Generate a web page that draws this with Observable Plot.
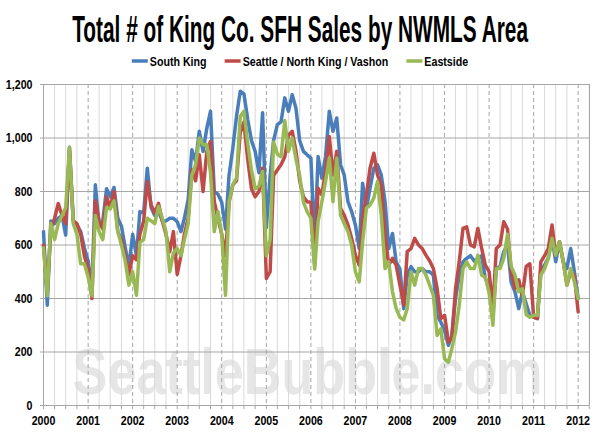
<!DOCTYPE html>
<html><head><meta charset="utf-8">
<script src="https://cdn.jsdelivr.net/npm/d3@7"></script>
<script src="https://cdn.jsdelivr.net/npm/@observablehq/plot@0.6"></script>
<style>
body{margin:0;background:#fff;width:600px;height:436px;overflow:hidden;font-family:"Liberation Sans",Arial,sans-serif}
svg{display:block}
</style></head><body>
<svg id="header" width="600" height="76">
  <text id="title" x="300" y="42" text-anchor="middle" font-size="37" font-weight="bold" fill="#000">Total # of King Co. SFH Sales by NWMLS Area</text>
  <g id="legend"></g>
</svg>
<div id="chart"></div>
<script>
const seriesNames = ["South King", "Seattle / North King / Vashon", "Eastside"];
const seriesColors = ["#4A7EBB", "#BE4B48", "#98B954"];
const years = [2000,2001,2002,2003,2004,2005,2006,2007,2008,2009,2010,2011,2012];
const yTicks = [0,200,400,600,800,1000,1200];
const watermark = "SeattleBubble.com";

// monthly values, Jan 2000 .. Jan 2012
const southKing = [
 650,375,690,680,700,710,637,965,690,675,650,590,
 540,430,825,670,690,810,780,815,700,670,590,520,
 640,560,725,720,887,740,710,725,690,690,700,700,
 687,650,700,770,956,912,1025,950,1037,1100,800,790,
 760,660,860,962,1080,1175,1165,1070,990,950,870,1094,
 665,860,990,1050,1060,1150,1100,1162,1110,990,950,937,
 925,600,931,850,931,1100,1025,1075,900,862,762,725,
 675,587,831,737,812,887,900,862,762,587,643,537,
 510,362,487,519,500,500,512,500,500,487,337,312,
 280,225,262,400,487,537,550,560,540,550,560,475,
 450,337,512,520,575,600,460,425,362,425,380,337,
 330,325,500,525,550,625,537,612,537,512,587,500,
 400];
const seattle = [
 600,420,660,700,755,710,680,955,690,680,640,560,
 510,400,765,690,660,780,740,800,650,620,560,490,
 560,545,640,690,837,750,720,756,690,640,575,650,
 490,560,640,700,880,840,937,800,950,987,762,700,
 640,560,760,825,840,1020,1060,920,810,780,800,887,
 475,500,860,880,900,930,1010,1025,950,840,780,762,
 760,525,812,787,875,1006,862,950,737,712,675,625,
 562,525,700,787,887,943,862,825,637,525,550,525,
 450,375,575,587,625,600,587,562,540,512,437,325,
 337,237,250,437,537,662,668,600,593,662,587,525,
 500,362,587,600,687,660,500,437,470,412,520,530,
 330,325,537,560,587,675,562,612,537,450,500,487,
 350];
const eastside = [
 590,410,680,620,680,710,740,965,680,640,530,530,
 480,410,710,650,620,740,735,765,650,600,540,450,
 500,412,610,620,700,690,680,744,700,650,500,570,
 587,560,620,680,860,900,1000,975,975,870,650,725,
 640,412,762,825,850,1080,1100,980,880,810,820,875,
 560,620,985,940,930,1065,950,1000,920,860,760,725,
 700,510,687,762,837,925,762,925,712,680,650,600,
 500,462,612,737,750,775,837,712,512,537,425,362,
 330,320,362,500,450,512,512,487,450,412,262,287,
 175,162,212,275,375,512,537,512,512,562,487,480,
 420,300,512,512,550,640,520,487,425,437,340,330,
 337,337,487,512,550,625,562,612,537,450,512,462,
 400];

// squeeze a text horizontally around its anchor, by wrapping it in a scaled group
function squeeze(t, s) {
  const bb = t.getBBox();
  const anchor = getComputedStyle(t).textAnchor || t.getAttribute("text-anchor") || "start";
  let ax = anchor === "end" ? bb.x + bb.width : anchor === "middle" ? bb.x + bb.width / 2 : bb.x;
  let ay = bb.y + bb.height / 2;
  const c = t.transform && t.transform.baseVal.consolidate();
  if (c) {
    const m = c.matrix;
    const px = m.a * ax + m.c * ay + m.e, py = m.b * ax + m.d * ay + m.f;
    ax = px; ay = py;
  }
  const g = document.createElementNS("http://www.w3.org/2000/svg", "g");
  g.setAttribute("transform", `translate(${ax},${ay}) scale(${s},1) translate(${-ax},${-ay})`);
  t.parentNode.insertBefore(g, t);
  g.appendChild(t);
}

const start = new Date(Date.UTC(2000,0,1));
const end = new Date(Date.UTC(2012,3,3));
const months = southKing.map((_, i) => new Date(Date.UTC(2000, i, 1)));
const seriesValues = [southKing, seattle, eastside];
const table = seriesValues.map((vals, s) => vals.map((v, i) => ({date: months[i], value: v, series: seriesNames[s]})));
const yearDates = years.map(y => new Date(Date.UTC(y,0,1)));
const quarterDates = d3.utcMonth.every(3).range(start, end);
const minorDates = quarterDates.filter(d => d.getUTCMonth() !== 0);

// title
const title = document.getElementById("title");
squeeze(title, 456 / title.getComputedTextLength());

// legend
const legend = d3.select("#legend");
const narrow = 0.82;
let x = 0;
seriesNames.forEach((name, i) => {
  const g = legend.append("g");
  g.append("line").attr("x1", x).attr("x2", x + 16).attr("y1", 61).attr("y2", 61)
    .attr("stroke", seriesColors[i]).attr("stroke-width", 3.5);
  const t = g.append("text").attr("x", x + 18).attr("y", 66).attr("font-size", 13)
    .attr("font-weight", "bold").attr("fill", "#000").text(name);
  const w = t.node().getComputedTextLength() * narrow;
  squeeze(t.node(), narrow);
  x += 18 + w + 18;
});
const total = x - 18;
legend.attr("transform", `translate(${300 - total / 2},0)`);

const chart = Plot.plot({
  width: 600, height: 360,
  marginTop: 8, marginBottom: 31, marginLeft: 43, marginRight: 11,
  style: {fontFamily: '"Liberation Sans", Arial, sans-serif', fontSize: "13px", fontWeight: "bold", color: "#000", background: "#fff"},
  x: {type: "utc", domain: [start, end], label: null},
  y: {domain: [0, 1200], label: null},
  marks: [
    Plot.text([watermark], {frameAnchor: "bottom", dx: -9, dy: -12, lineAnchor: "bottom", fontSize: 65, fontWeight: "bold", fill: "#e6e6e6", className: "wm"}),
    Plot.ruleX(minorDates, {stroke: "#d9d9d9", strokeWidth: 1}),
    Plot.ruleX(yearDates.slice(1), {stroke: "#a6a6a6", strokeDasharray: "4,3", strokeWidth: 1}),
    Plot.ruleY(yTicks, {stroke: "#a6a6a6", strokeWidth: 1}),
    Plot.ruleX([start, end], {stroke: "#a6a6a6", strokeWidth: 1}),
    Plot.axisY({ticks: yTicks, tickFormat: d3.format(","), tickSize: 3, tickPadding: 8, stroke: "#a6a6a6", fill: "#000", label: null, className: "lbl"}),
    Plot.axisX({ticks: quarterDates, tickFormat: () => "", tickSize: 4, stroke: "#a6a6a6", label: null}),
    Plot.axisX({ticks: yearDates, tickFormat: d3.utcFormat("%Y"), tickSize: 0, tickPadding: 10, fill: "#000", label: null, className: "lbl"}),
    ...table.map((rows, s) => Plot.line(rows, {x: "date", y: "value", stroke: seriesColors[s], strokeWidth: 3.5, strokeLinejoin: "round"}))
  ]
});
document.getElementById("chart").appendChild(chart);
chart.querySelectorAll(".lbl text").forEach(t => { if (t.textContent) squeeze(t, narrow); });
const wm = chart.querySelector(".wm text");
if (wm) squeeze(wm, 470 / wm.getComputedTextLength());
</script>
</body></html>
